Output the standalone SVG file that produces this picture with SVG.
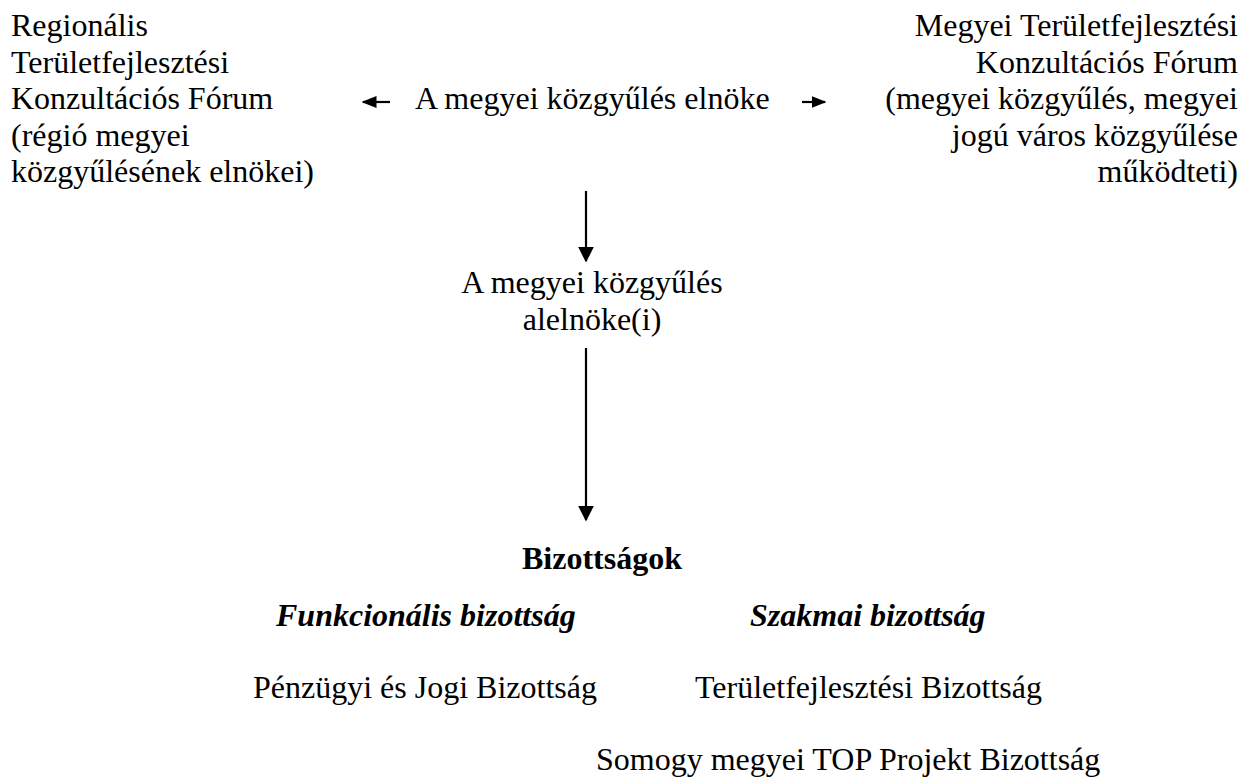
<svg xmlns="http://www.w3.org/2000/svg" width="1247" height="778" viewBox="0 0 1247 778">
<style>
text{font-family:'Liberation Serif','Times New Roman',Times,'DejaVu Serif',serif;font-size:32px;fill:#000}
.b{font-weight:bold}
.bi{font-weight:bold;font-style:italic}
.end{text-anchor:end}
.mid{text-anchor:middle}
.ln{stroke:#000;stroke-width:2.2;fill:none}
</style>
<defs>
<marker id="ah" viewBox="0 0 10 10" refX="9" refY="5" markerUnits="userSpaceOnUse" markerWidth="15" markerHeight="12" preserveAspectRatio="none" orient="auto">
<path d="M0,0 L10,5 L0,10 Z" fill="#000"/>
</marker>
<marker id="ahv" viewBox="0 0 10 10" refX="9" refY="5" markerUnits="userSpaceOnUse" markerWidth="16" markerHeight="16" preserveAspectRatio="none" orient="auto">
<path d="M0,0 L10,5 L0,10 Z" fill="#000"/>
</marker>
</defs>
<g id="connectors">
<line class="ln" x1="390" y1="102" x2="363" y2="102" marker-end="url(#ah)"/>
<line class="ln" x1="802" y1="102" x2="825" y2="102" marker-end="url(#ah)"/>
<line class="ln" x1="586" y1="191" x2="586" y2="261" marker-end="url(#ahv)"/>
<line class="ln" x1="586" y1="348" x2="586" y2="520" marker-end="url(#ahv)"/>
</g>
<g id="regionalis" font-family="Liberation Serif, serif">
<text x="11" y="36">Regionális</text>
<text x="11" y="72.5">Területfejlesztési</text>
<text x="11" y="109">Konzultációs Fórum</text>
<text x="11" y="145.5">(régió megyei</text>
<text x="11" y="182">közgyűlésének elnökei)</text>
</g>
<g id="elnok">
<text x="415" y="109">A megyei közgyűlés elnöke</text>
</g>
<g id="megyei-forum">
<text class="end" x="1238" y="36">Megyei Területfejlesztési</text>
<text class="end" x="1238" y="72.5">Konzultációs Fórum</text>
<text class="end" x="1238" y="109">(megyei közgyűlés, megyei</text>
<text class="end" x="1238" y="145.5">jogú város közgyűlése</text>
<text class="end" x="1238" y="182">működteti)</text>
</g>
<g id="alelnok">
<text class="mid" x="592" y="293">A megyei közgyűlés</text>
<text class="mid" x="592" y="330">alelnöke(i)</text>
</g>
<g id="bizottsagok">
<text class="b mid" x="602" y="569">Bizottságok</text>
</g>
<g id="funkcionalis">
<text class="bi" x="276" y="626">Funkcionális bizottság</text>
<text x="253" y="698">Pénzügyi és Jogi Bizottság</text>
</g>
<g id="szakmai">
<text class="bi" x="750" y="626">Szakmai bizottság</text>
<text x="695" y="698">Területfejlesztési Bizottság</text>
<text x="596" y="770">Somogy megyei TOP Projekt Bizottság</text>
</g>
</svg>
